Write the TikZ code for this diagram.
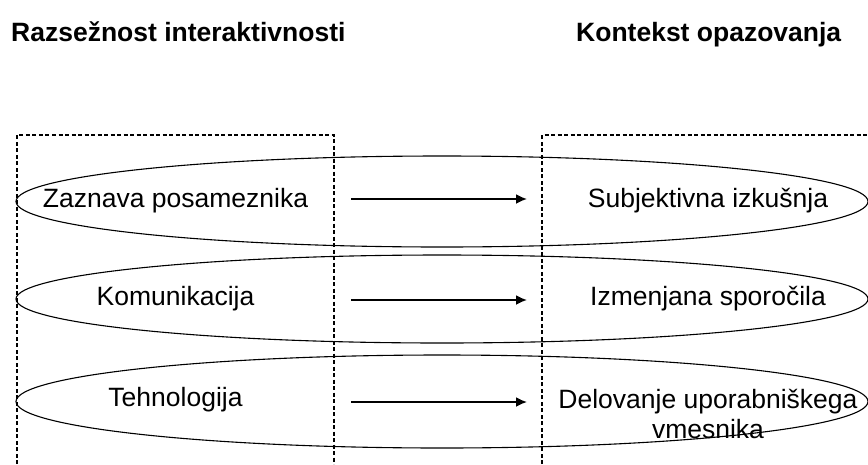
\documentclass[tikz,border=0pt]{standalone}
\usepackage{fontspec}
\setmainfont{Liberation Sans}
\usetikzlibrary{shapes.geometric,arrows.meta}
\begin{document}
\begin{tikzpicture}[x=1pt,y=-1pt,
  lbl/.style={font=\fontsize{26.5}{30}\selectfont, inner sep=0pt, align=center},
  head/.style={font=\fontsize{26.5}{30}\selectfont\bfseries, inner sep=0pt, anchor=base west},
  oval/.style={ellipse, draw, line width=1.1pt, inner sep=0pt, minimum width=852pt},
  frame/.style={draw, line width=1.3pt, dash pattern=on 4pt off 2.5pt},
  arr/.style={line width=1.8pt, -{Latex[length=11pt,width=10pt]}}]
\useasboundingbox (0,0) rectangle (868,464);
% headings
\node[head] (h1) at (11,41.5) {Razsežnost interaktivnosti};
\node[head] (h2) at (576,41.5) {Kontekst opazovanja};
% dashed frames
\coordinate (fl1) at (17,464);
\coordinate (fl2) at (17,135);
\coordinate (fl3) at (334,135);
\coordinate (fl4) at (334,464);
\coordinate (fr1) at (542,464);
\coordinate (fr2) at (542,135);
\coordinate (fr3) at (868,135);
\draw[frame] (fl1) -- (fl2) -- (fl3) -- (fl4);
\draw[frame] (fr1) -- (fr2) -- (fr3);
% ellipses
\node[oval, minimum height=91pt] (e1) at (442,201.5) {};
\node[oval, minimum height=88pt] (e2) at (442,299) {};
\node[oval, minimum height=93pt] (e3) at (442,401.5) {};
% labels
\node[lbl] (l1) at (175.5,201) {Zaznava posameznika};
\node[lbl] (l2) at (175.5,299) {Komunikacija};
\node[lbl] (l3) at (175.5,400) {Tehnologija};
\node[lbl] (r1) at (708,201) {Subjektivna izkušnja};
\node[lbl] (r2) at (708,299) {Izmenjana sporočila};
\node[lbl] (r3) at (708,414) {Delovanje uporabniškega\\vmesnika};
% arrows
\coordinate (a1s) at (351,199);
\coordinate (a1e) at (527,199);
\coordinate (a2s) at (351,300);
\coordinate (a2e) at (527,300);
\coordinate (a3s) at (351,402);
\coordinate (a3e) at (527,402);
\draw[arr] (a1s) -- (a1e);
\draw[arr] (a2s) -- (a2e);
\draw[arr] (a3s) -- (a3e);
\end{tikzpicture}
\end{document}
